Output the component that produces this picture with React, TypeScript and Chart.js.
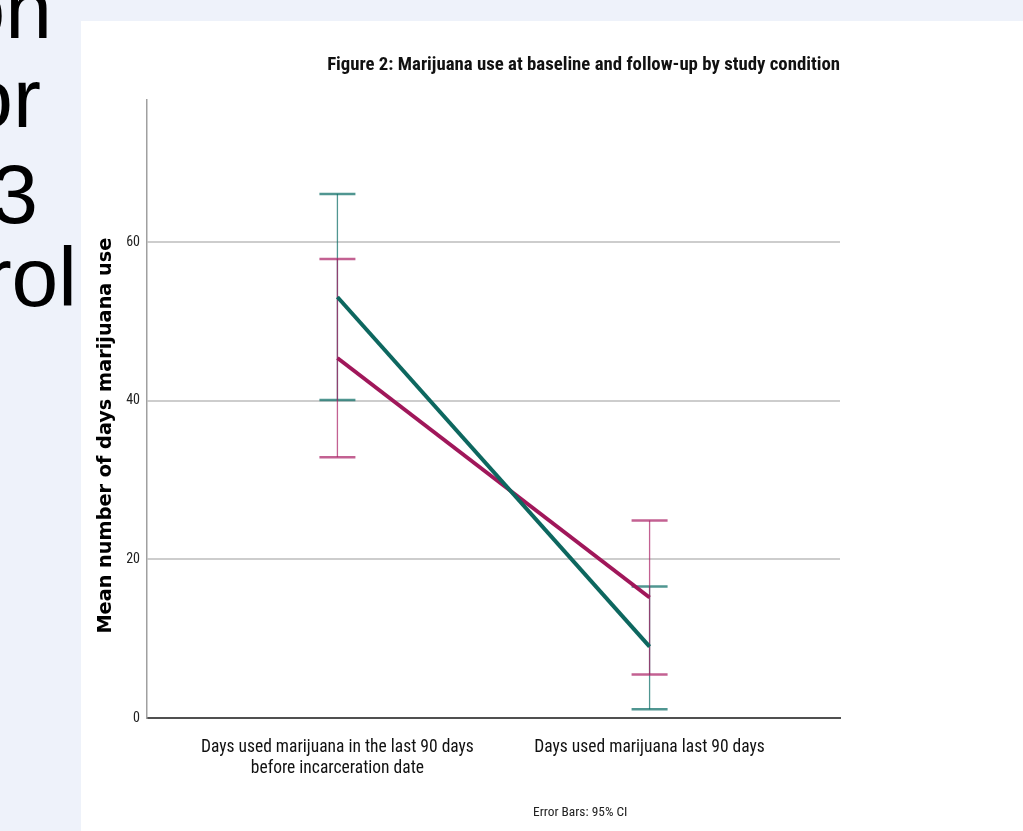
import React, { useEffect, useRef } from "react";
import { Chart, registerables } from "chart.js";

Chart.register(...registerables);

// ---------- data ----------
const CATEGORIES: string[][] = [
  ["Days used marijuana in the last 90 days", "before incarceration date"],
  ["Days used marijuana last 90 days"],
];
const CATEGORY_INDEX = [0, 1];

const INTERVENTION_MEAN = [53.1, 9.0];
const INTERVENTION_LOW = [40.1, 1.1];
const INTERVENTION_HIGH = [66.1, 16.6];

const CONTROL_MEAN = [45.4, 15.2];
const CONTROL_LOW = [32.9, 5.5];
const CONTROL_HIGH = [57.9, 24.9];

const Y_TICKS = [0, 20, 40, 60];

const TITLE = "Figure 2: Marijuana use at baseline and follow-up by study condition";
const Y_TITLE = "Mean number of days marijuana use";
const NOTE = "Error Bars: 95% CI";
const SIDE_LINES = ["on", "or", "3", "rol"];

// ---------- styles ----------
const TEAL = "#0d675f";
const TEAL_ERR = "rgba(13,110,102,0.72)";
const MAGENTA = "#a0175a";
const MAGENTA_ERR = "rgba(170,30,100,0.7)";
const NARROW = '"Liberation Sans Narrow", "Arial Narrow", "Roboto Condensed", sans-serif';
const SANS = '"Liberation Sans", Arial, Helvetica, sans-serif';
const WIDE_BOLD = '"DejaVu Sans", Verdana, sans-serif';

const SIDE_POS = [
  { top: -33, right: 1023 - 52 },
  { top: 56, right: 1023 - 41 },
  { top: 152, right: 1023 - 38 },
  { top: 235, right: 1023 - 77 },
];

const errorBarPlugin = {
  id: "errorBars",
  beforeDatasetsDraw(chart: any) {
    const { ctx, scales } = chart;
    const x = scales.x;
    const y = scales.y;
    chart.data.datasets.forEach((ds: any) => {
      const lows: number[] = ds.errLow;
      const highs: number[] = ds.errHigh;
      lows.forEach((lo: number, i: number) => {
        const px = x.getPixelForValue(CATEGORY_INDEX[i]);
        const pLo = y.getPixelForValue(lo);
        const pHi = y.getPixelForValue(highs[i]);
        ctx.save();
        ctx.strokeStyle = ds.errColor;
        ctx.lineWidth = 1.3;
        ctx.beginPath();
        ctx.moveTo(px, pLo);
        ctx.lineTo(px, pHi);
        ctx.stroke();
        ctx.lineWidth = 2.5;
        ctx.beginPath();
        ctx.moveTo(px - 18, pLo);
        ctx.lineTo(px + 18, pLo);
        ctx.moveTo(px - 18, pHi);
        ctx.lineTo(px + 18, pHi);
        ctx.stroke();
        ctx.restore();
      });
    });
  },
};

const notePlugin = {
  id: "note",
  afterDraw(chart: any) {
    const { ctx } = chart;
    ctx.save();
    ctx.font = `13.4px ${NARROW}`;
    ctx.fillStyle = "#222";
    ctx.textAlign = "left";
    ctx.textBaseline = "middle";
    ctx.fillText(NOTE, 452, 792);
    ctx.restore();
  },
};

export default function App() {
  const canvasRef = useRef<HTMLCanvasElement | null>(null);

  useEffect(() => {
    if (!canvasRef.current) return;
    const chart = new Chart(canvasRef.current, {
      type: "line",
      data: {
        datasets: [
          {
            label: "Intervention",
            data: CATEGORY_INDEX.map((c, i) => ({ x: c, y: INTERVENTION_MEAN[i] })),
            borderColor: TEAL,
            backgroundColor: TEAL,
            borderWidth: 4,
            pointRadius: 0,
            tension: 0,
            errLow: INTERVENTION_LOW,
            errHigh: INTERVENTION_HIGH,
            errColor: TEAL_ERR,
          } as any,
          {
            label: "Control",
            data: CATEGORY_INDEX.map((c, i) => ({ x: c, y: CONTROL_MEAN[i] })),
            borderColor: MAGENTA,
            backgroundColor: MAGENTA,
            borderWidth: 4,
            pointRadius: 0,
            tension: 0,
            errLow: CONTROL_LOW,
            errHigh: CONTROL_HIGH,
            errColor: MAGENTA_ERR,
          } as any,
        ],
      },
      options: {
        animation: false,
        responsive: false,
        maintainAspectRatio: false,
        layout: { padding: { left: 0, right: 183, top: 0, bottom: 0 } },
        plugins: {
          legend: { display: false },
          tooltip: { enabled: false },
          title: {
            display: true,
            text: TITLE,
            align: "end",
            fullSize: false,
            color: "#111",
            font: { family: NARROW, size: 18.8, weight: "bold" },
            padding: { top: 33, bottom: 23 },
          },
        },
        scales: {
          x: {
            type: "linear",
            min: -0.61,
            max: 1.61,
            afterBuildTicks: (scale: any) => {
              scale.ticks = CATEGORY_INDEX.map((v) => ({ value: v }));
            },
            afterFit: (scale: any) => {
              scale.height = 113;
            },
            grid: { display: false, drawTicks: false },
            border: { display: true, color: "#505050", width: 2 },
            ticks: {
              padding: 19,
              color: "#111",
              maxRotation: 0,
              autoSkip: false,
              font: { family: NARROW, size: 17.5 },
              callback: (v: any) => CATEGORIES[CATEGORY_INDEX.indexOf(Number(v))] ?? "",
            },
          },
          y: {
            type: "linear",
            min: 0,
            max: 78,
            afterBuildTicks: (scale: any) => {
              scale.ticks = Y_TICKS.map((v) => ({ value: v }));
            },
            afterFit: (scale: any) => {
              scale.width = 66;
            },
            grid: {
              drawTicks: false,
              lineWidth: 2,
              color: (c: any) => (c.tick && c.tick.value === 0 ? "rgba(0,0,0,0)" : "#cdcdcd"),
            },
            border: { display: true, color: "#a0a0a0", width: 1.5 },
            ticks: {
              padding: 7,
              color: "#222",
              font: { family: NARROW, size: 14 },
            },
            title: {
              display: true,
              text: Y_TITLE + "        ",
              color: "#000",
              font: { family: WIDE_BOLD, size: 19.3, weight: "bold" },
              padding: { top: 13, bottom: 0 },
            },
          },
        },
      },
      plugins: [errorBarPlugin, notePlugin],
    });
    return () => chart.destroy();
  }, []);

  return (
    <div
      style={{
        position: "absolute",
        left: 0,
        top: 0,
        width: 1023,
        height: 831,
        overflow: "hidden",
        background: "#eef2fa",
      }}
    >
      {SIDE_LINES.map((t, i) => (
        <div
          key={i}
          style={{
            position: "absolute",
            top: SIDE_POS[i].top,
            right: SIDE_POS[i].right,
            fontFamily: SANS,
            fontSize: 84,
            lineHeight: "84px",
            color: "#000",
            whiteSpace: "nowrap",
          }}
        >
          {t}
        </div>
      ))}
      <div
        style={{
          position: "absolute",
          left: 81,
          top: 21,
          width: 942,
          height: 810,
          background: "#ffffff",
        }}
      >
        <canvas ref={canvasRef} width={942} height={810} style={{ display: "block" }} />
      </div>
    </div>
  );
}
